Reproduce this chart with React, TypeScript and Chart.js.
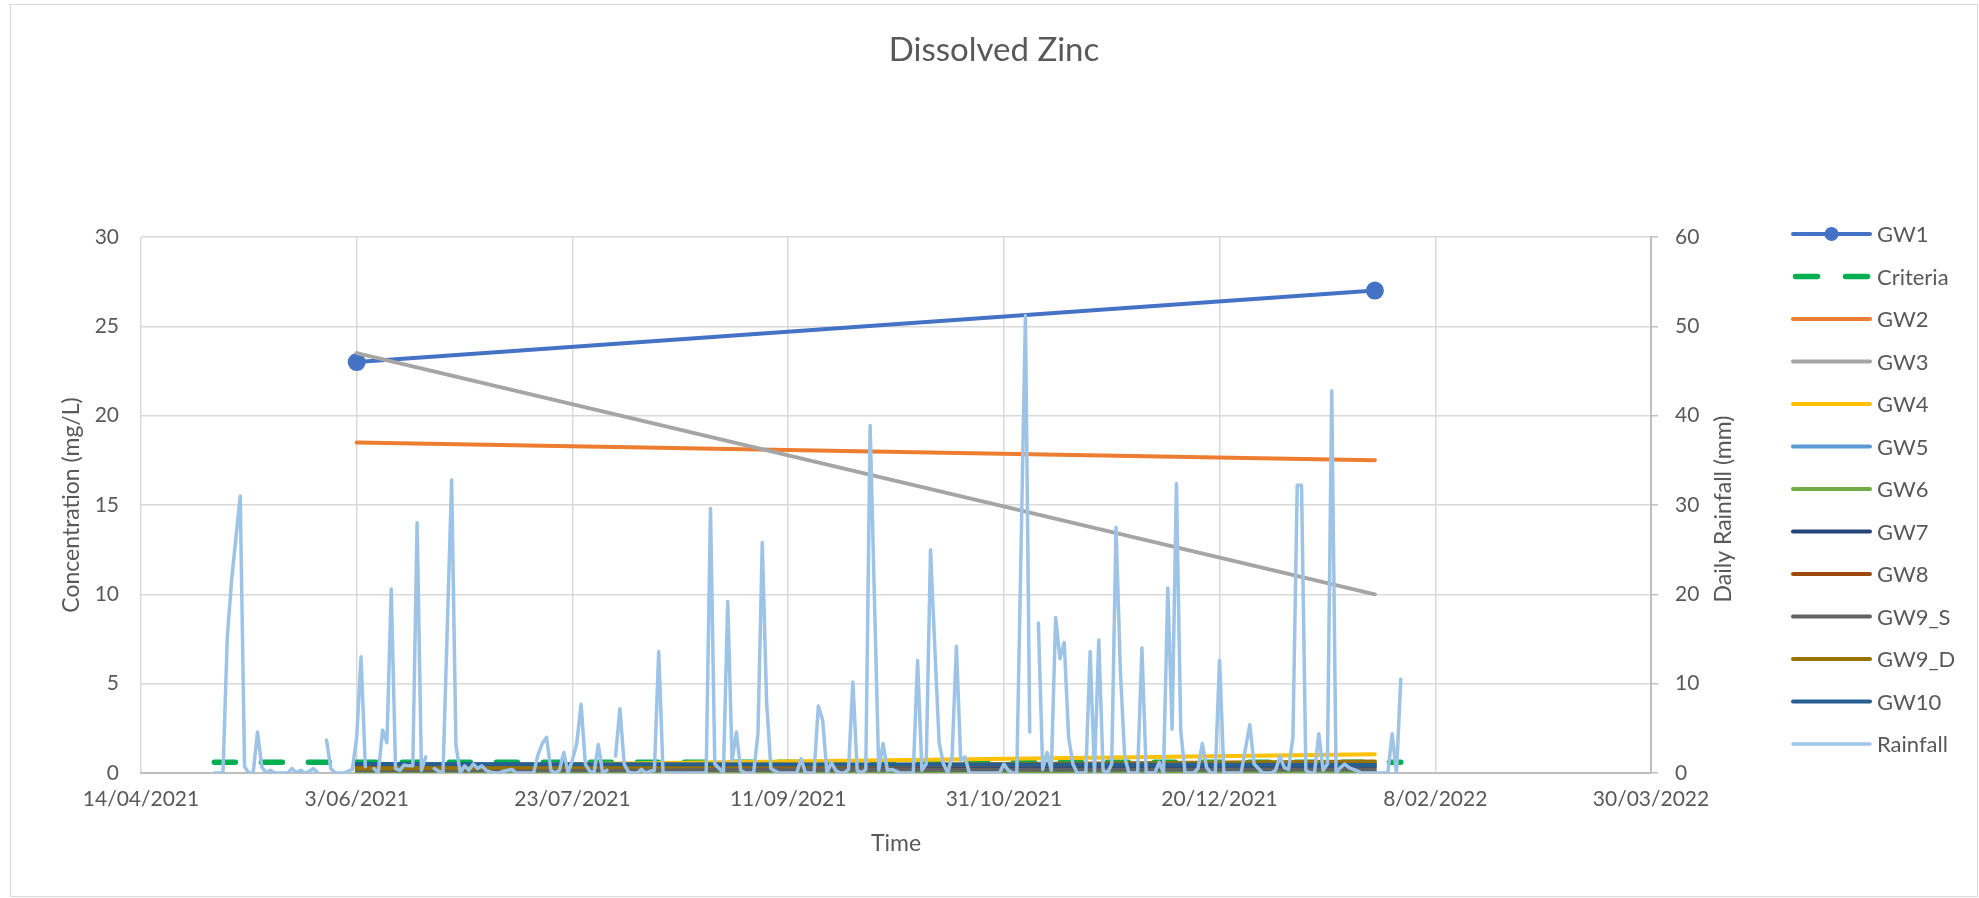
import { useEffect, useRef } from 'react';
import { Chart, registerables } from 'chart.js';

Chart.register(...registerables);

const DAY = 86400000;
const toMs = (s: string) => {
  const [y, m, d] = s.split('-').map(Number);
  return Date.UTC(y, m - 1, d);
};
const pad2 = (n: number) => (n < 10 ? '0' + n : '' + n);
const fmtDate = (ms: number) => {
  const d = new Date(ms);
  return `${d.getUTCDate()}/${pad2(d.getUTCMonth() + 1)}/${d.getUTCFullYear()}`;
};

// ---- data ----
const xTickDates = ['2021-04-14', '2021-06-03', '2021-07-23', '2021-09-11', '2021-10-31', '2021-12-20', '2022-02-08', '2022-03-30'];
const concentrationTicks = [0, 5, 10, 15, 20, 25, 30];
const rainfallTicks = [0, 10, 20, 30, 40, 50, 60];

const sampleDates = ['2021-06-03', '2022-01-25'];
const gw1 = [23, 27];
const gw2 = [18.5, 17.5];
const gw3 = [23.5, 10];
const gw4 = [0.35, 1.05];
const gw5 = [0.05, 0.05];
const gw6 = [0.02, 0.02];
const gw7 = [0.45, 0.35];
const gw8 = [0.3, 0.55];
const gw9s = [0.15, 0.2];
const gw9d = [0.25, 0.65];
const gw10 = [0.5, 0.45];

const criteriaDates = ['2021-05-01', '2022-01-31'];
const criteriaValues = [0.6, 0.6];

const rainfallStartDate = '2021-05-01';
const rainfall: (number | null)[] = [
  0, 0, 0, 15.2, 21.6, 26.3, 31.0, 0.7, 0, 0,
  4.6, 0.7, 0, 0.3, 0, 0, 0, 0, 0.5, 0,
  0.3, 0, 0.2, 0.5, 0, null, 3.7, 0.5, 0, 0,
  0, 0.2, 0.4, 4.0, 13.0, 0.7, null, 0.5, 0, 4.8,
  3.4, 20.6, 0.5, 0.3, 0.9, 0.8, 0.8, 28.0, 0.3, 1.8,
  null, 0.5, 0.2, 0, 16.4, 32.8, 3.1, 0, 0.8, 0.3,
  1.0, 0.5, 0.8, 0.3, 0.1, 0, 0, 0.2, 0.3, 0.4,
  0, 0, 0, 0, 0, 2.0, 3.3, 4.0, 0.3, 0,
  0.3, 2.3, 0, 1.5, 3.3, 7.7, 1.0, 0.2, 0, 3.2,
  0, 0.3, null, 1.9, 7.2, 1.0, 0.1, 0, 0, 0.4,
  0, 0.2, 0.3, 13.6, 0, 0, 0, 0, 0, 0,
  0, 0, 0, 0, 0, 29.6, 1.0, 0.5, 0, 19.2,
  1.4, 4.6, 0.3, 0, 0, 0, 4.4, 25.8, 8.0, 0.5,
  0.2, 0, 0, 0, 0, 0, 1.6, 0, 0, 0,
  7.5, 5.9, 0, 1.2, 0.3, 0, 0, 0.4, 10.2, 0.3,
  0, 0.4, 38.9, 19.5, 0.3, 3.3, 0.3, 0.4, 0.2, 0,
  0, 0, 0, 12.6, 0.3, 1.0, 25.0, 14.0, 3.4, 1.0,
  0, 1.9, 14.2, 1.4, 1.8, 0, 0, 0, 0, 0,
  0, 0, 0, 1.0, 0.3, 0, 0, 25.5, 51.2, 4.6,
  null, 16.8, 0.4, 2.3, 0.3, 17.4, 12.8, 14.6, 4.0, 1.0,
  0, 0, 0, 13.6, 0, 14.9, 0.3, 0, 1.0, 27.5,
  11.5, 1.8, 0, 0, 0, 14.0, 0, 0, 0, 1.2,
  0, 20.7, 4.9, 32.4, 4.7, 0, 0, 0, 0.5, 3.3,
  0.6, 0, 0, 12.6, 0, 0, 0, 0, 0, 2.7,
  5.4, 1.0, 0.5, 0, 0, 0, 0.3, 1.9, 0.6, 0.4,
  4.0, 32.2, 32.2, 0.3, 0, 0, 4.4, 0.3, 1.0, 42.8,
  0, 0.6, 1.0, 0.6, 0.4, 0.2, 0, 0, 0, 0,
  0, 0, 0, 4.4, 0, 10.5,
];

// ---- styling ----
const FONT = 'Lato, "Open Sans", sans-serif';
const TEXT = '#595959';
const GRID = '#D9D9D9';
const AXIS = '#BFBFBF';

const pts = (dates: string[], vals: (number | null)[]) => dates.map((d, i) => ({ x: toMs(d), y: vals[i] }));

const gwSeries: [string, number[], string][] = [
  ['GW2', gw2, '#ED7D31'],
  ['GW3', gw3, '#A5A5A5'],
  ['GW4', gw4, '#FFC000'],
  ['GW5', gw5, '#5B9BD5'],
  ['GW6', gw6, '#70AD47'],
  ['GW7', gw7, '#264478'],
  ['GW8', gw8, '#9E480E'],
  ['GW9_S', gw9s, '#636363'],
  ['GW9_D', gw9d, '#997300'],
  ['GW10', gw10, '#255E91'],
];

const legendPlugin = {
  id: 'excelLegend',
  afterDraw(chart: any) {
    const ctx = chart.ctx as CanvasRenderingContext2D;
    const x0 = 1782, x1 = 1859, tx = 1866, top = 229, step = 42.5;
    ctx.save();
    chart.data.datasets.forEach((ds: any, i: number) => {
      const y = top + i * step;
      ctx.strokeStyle = ds.borderColor;
      ctx.lineWidth = ds.borderWidth;
      ctx.lineCap = 'round';
      if (ds.borderDash && ds.borderDash.length) {
        ctx.setLineDash([22, 28]);
        ctx.beginPath();
        ctx.moveTo(x0 + 2.5, y);
        ctx.lineTo(x1 - 2.5, y);
        ctx.stroke();
        ctx.setLineDash([]);
      } else {
        ctx.beginPath();
        ctx.moveTo(x0, y);
        ctx.lineTo(x1, y);
        ctx.stroke();
      }
      if (ds.pointRadius > 0) {
        ctx.fillStyle = ds.pointBackgroundColor;
        ctx.beginPath();
        ctx.arc((x0 + x1) / 2, y, ds.pointRadius, 0, Math.PI * 2);
        ctx.fill();
      }
      ctx.fillStyle = TEXT;
      ctx.font = `22px ${FONT}`;
      ctx.textBaseline = 'middle';
      ctx.textAlign = 'left';
      ctx.fillText(ds.label, tx, y + 1);
    });
    // secondary axis title (reads bottom-to-top)
    const ca = chart.chartArea;
    ctx.translate(1713, (ca.top + ca.bottom) / 2 + 4);
    ctx.rotate(-Math.PI / 2);
    ctx.font = `23px ${FONT}`;
    ctx.textAlign = 'center';
    ctx.textBaseline = 'middle';
    ctx.fillStyle = TEXT;
    ctx.fillText('Daily Rainfall (mm)', 0, 0);
    ctx.restore();
  },
};

export default function App() {
  const ref = useRef<HTMLCanvasElement | null>(null);

  useEffect(() => {
    if (!ref.current) return;
    const n = 13;
    const datasets: any[] = [];
    datasets.push({
      label: 'GW1',
      data: pts(sampleDates, gw1),
      borderColor: '#4472C4',
      backgroundColor: '#4472C4',
      pointBackgroundColor: '#4472C4',
      pointBorderColor: '#4472C4',
      borderWidth: 4,
      pointRadius: 7,
      yAxisID: 'y',
    });
    datasets.push({
      label: 'Criteria',
      data: pts(criteriaDates, criteriaValues),
      borderColor: '#00B050',
      backgroundColor: '#00B050',
      borderWidth: 5.5,
      borderDash: [21, 26],
      borderCapStyle: 'round',
      pointRadius: 0,
      yAxisID: 'y',
    });
    gwSeries.forEach(([label, vals, color]) => {
      datasets.push({
        label,
        data: pts(sampleDates, vals),
        borderColor: color,
        backgroundColor: color,
        borderWidth: 4,
        borderCapStyle: 'round',
        pointRadius: 0,
        yAxisID: 'y',
      });
    });
    const start = toMs(rainfallStartDate);
    datasets.push({
      label: 'Rainfall',
      data: rainfall.map((v, i) => ({ x: start + i * DAY, y: v })),
      borderColor: '#9DC3E6',
      backgroundColor: '#9DC3E6',
      borderWidth: 3.5,
      borderJoinStyle: 'round',
      borderCapStyle: 'round',
      pointRadius: 0,
      spanGaps: false,
      yAxisID: 'y2',
    });
    datasets.forEach((ds, i) => {
      ds.order = n - i;
      ds.tension = 0;
      ds.fill = false;
    });

    const chart = new Chart(ref.current, {
      type: 'line',
      data: { datasets },
      plugins: [legendPlugin],
      options: {
        animation: false,
        responsive: false,
        devicePixelRatio: 1,
        events: [],
        layout: { padding: 0 },
        plugins: {
          legend: { display: false },
          tooltip: { enabled: false },
          title: {
            display: true,
            text: 'Dissolved Zinc',
            color: TEXT,
            font: { family: FONT, size: 33, weight: 'normal', lineHeight: 1.2 },
            padding: { top: 25.5, bottom: 166.9 },
          },
        },
        scales: {
          x: {
            type: 'linear',
            position: 'bottom',
            min: toMs(xTickDates[0]),
            max: toMs(xTickDates[xTickDates.length - 1]),
            afterBuildTicks: (scale: any) => {
              scale.ticks = xTickDates.map((d) => ({ value: toMs(d) }));
            },
            afterFit: (scale: any) => {
              scale.height = 123;
            },
            grid: { color: GRID, lineWidth: 1.5, drawTicks: false },
            border: { display: true, color: AXIS, width: 2 },
            ticks: {
              autoSkip: false,
              maxRotation: 0,
              padding: 14,
              color: TEXT,
              font: { family: FONT, size: 21 },
              callback: (v: any) => fmtDate(Number(v)),
            },
            title: {
              display: true,
              text: 'Time',
              color: TEXT,
              font: { family: FONT, size: 23, lineHeight: 1.2 },
              padding: { top: 0, bottom: 39 },
            },
          },
          y: {
            type: 'linear',
            position: 'left',
            min: concentrationTicks[0],
            max: concentrationTicks[concentrationTicks.length - 1],
            afterBuildTicks: (scale: any) => {
              scale.ticks = concentrationTicks.map((v) => ({ value: v }));
            },
            afterFit: (scale: any) => {
              scale.width = 130;
            },
            grid: { color: GRID, lineWidth: 1.5, drawTicks: false },
            border: { display: false },
            ticks: { padding: 22, color: TEXT, font: { family: FONT, size: 21 } },
            title: {
              display: true,
              text: 'Concentration (mg/L)',
              color: TEXT,
              font: { family: FONT, size: 23, lineHeight: 1.2 },
              padding: { top: 47, bottom: 0 },
            },
          },
          y2: {
            type: 'linear',
            position: 'right',
            min: rainfallTicks[0],
            max: rainfallTicks[rainfallTicks.length - 1],
            afterBuildTicks: (scale: any) => {
              scale.ticks = rainfallTicks.map((v) => ({ value: v }));
            },
            afterFit: (scale: any) => {
              scale.width = 326;
            },
            grid: { drawOnChartArea: false, drawTicks: true, tickLength: 7, color: AXIS, lineWidth: 1.5 },
            border: { display: true, color: AXIS, width: 2 },
            ticks: { padding: 17, color: TEXT, font: { family: FONT, size: 21 } },
          },
        },
      } as any,
    });
    return () => chart.destroy();
  }, []);

  return (
    <div
      style={{
        position: 'absolute',
        left: 10,
        top: 4,
        width: 1966,
        height: 891,
        border: '1px solid #D9D9D9',
        background: '#FFFFFF',
      }}
    >
      <canvas ref={ref} width={1966} height={891} style={{ display: 'block', width: 1966, height: 891 }} />
    </div>
  );
}
